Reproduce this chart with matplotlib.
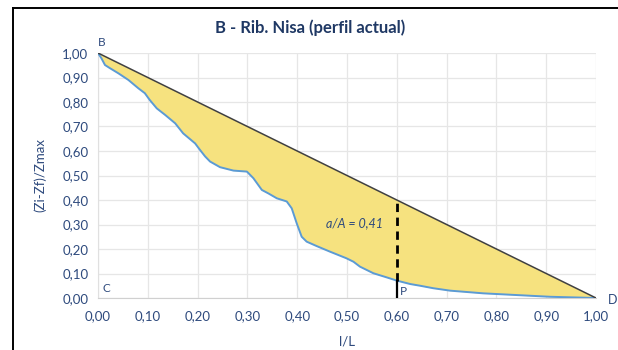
import matplotlib.pyplot as plt
import numpy as np
from matplotlib.lines import Line2D
from matplotlib.ticker import FuncFormatter

plt.rcParams['font.family'] = ['Lato', 'DejaVu Sans']

# profile (x = l/L, y = (Zi-Zf)/Zmax)
prof_x = [0.000, 0.007, 0.014, 0.024, 0.041, 0.061, 0.081, 0.094, 0.104, 0.118, 0.135,
          0.155, 0.171, 0.195, 0.205, 0.215, 0.225, 0.245, 0.272, 0.299, 0.312, 0.329,
          0.342, 0.359, 0.379, 0.389, 0.399, 0.409, 0.419, 0.439, 0.466, 0.499, 0.513,
          0.526, 0.553, 0.580, 0.600, 0.627, 0.647, 0.673, 0.707, 0.774, 0.841, 0.908,
          1.000]
prof_y = [1.000, 0.978, 0.951, 0.938, 0.917, 0.890, 0.856, 0.836, 0.808, 0.774, 0.747,
          0.713, 0.672, 0.631, 0.604, 0.578, 0.557, 0.534, 0.520, 0.516, 0.489, 0.441,
          0.427, 0.407, 0.394, 0.366, 0.305, 0.250, 0.230, 0.212, 0.189, 0.162, 0.148,
          0.128, 0.101, 0.084, 0.071, 0.057, 0.050, 0.040, 0.030, 0.019, 0.012, 0.005,
          0.000]
ref_x = [0.0, 1.0]
ref_y = [1.0, 0.0]
p_x = 0.60
p_low = 0.071
p_high = 0.40
ratio_label = 'a/A = 0,41'

navy = '#2E4A7D'
fig = plt.figure(figsize=(6.18, 3.5), dpi=100)
ax = fig.add_axes([98 / 618, 1 - 298 / 350, 498 / 618, 245 / 350])

px = np.array(prof_x)
ref_on_prof = np.interp(px, ref_x, ref_y)
ax.fill_between(px, prof_y, ref_on_prof, color='#F6E27F', lw=0, zorder=2)
ax.plot(prof_x, prof_y, color='#5B9BD5', lw=1.4, zorder=3, solid_joinstyle='round')
ax.plot(ref_x, ref_y, color='#404040', lw=1.1, zorder=3)
ax.plot([p_x, p_x], [0, p_low], color='black', lw=1.6, zorder=4)
ax.plot([p_x, p_x], [p_low, p_high], color='black', lw=2, ls=(0, (3, 2)), zorder=4)

ax.text(0.516, 0.305, ratio_label, style='italic', color=navy, fontsize=9,
        ha='center', va='center', zorder=5)
ax.text(0.0, 1.022, 'B', color=navy, fontsize=8.5, ha='left', va='bottom')
ax.text(0.01, 0.015, 'C', color=navy, fontsize=8.5, ha='left', va='bottom')
ax.text(0.607, 0.003, 'P', color=navy, fontsize=8.5, ha='left', va='bottom', zorder=5)
ax.text(1.024, -0.01, 'D', color=navy, fontsize=9, ha='left', va='center', clip_on=False)

ax.set_xlim(0, 1)
ax.set_ylim(0, 1)
ax.set_xticks(np.arange(0, 1.01, 0.1))
ax.set_yticks(np.arange(0, 1.01, 0.1))
fmt = FuncFormatter(lambda v, _: f'{v:.2f}'.replace('.', ','))
ax.xaxis.set_major_formatter(fmt)
ax.yaxis.set_major_formatter(fmt)
ax.tick_params(length=0, labelsize=9.5, labelcolor=navy, pad=7)
ax.tick_params(axis='x', pad=9)
ax.grid(color='#E6E6E6', lw=0.9, zorder=0)
ax.set_axisbelow(True)
for s in ['top', 'right']:
    ax.spines[s].set_visible(False)
ax.spines['left'].set_color('#E0E0E0')
ax.spines['bottom'].set_color('#D0D0D0')

ax.set_xlabel('l/L', color=navy, fontsize=9.5, labelpad=9)
ax.set_ylabel('(Zi-Zf)/Zmax', color=navy, fontsize=9.5, labelpad=11)
fig.text(310 / 618, 1 - 28 / 350, 'B - Rib. Nisa (perfil actual)', color='#1F3864',
         fontsize=12, fontweight='bold', ha='center', va='center')

# frame pieces visible in the reference
fig.add_artist(Line2D([13 / 618, 13 / 618], [0, 1 - 8 / 350], color='black', lw=1.4))
fig.add_artist(Line2D([13 / 618, 1], [1 - 8 / 350, 1 - 8 / 350], color='black', lw=1.4))

fig.savefig('out.png', dpi=100)
